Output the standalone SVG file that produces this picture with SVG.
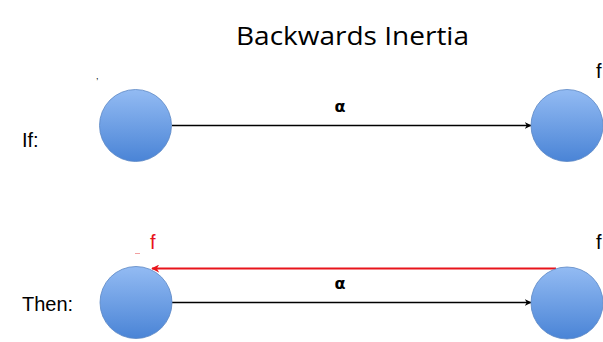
<svg xmlns="http://www.w3.org/2000/svg" width="603" height="342" viewBox="0 0 603 342">
  <defs>
    <linearGradient id="ball" x1="0" y1="0" x2="0" y2="1">
      <stop offset="0" stop-color="#93bbf3"/>
      <stop offset="1" stop-color="#4a84d6"/>
    </linearGradient>
    <marker id="arrBlack" viewBox="0 0 10 10" refX="9" refY="5" markerWidth="7" markerHeight="7" markerUnits="userSpaceOnUse" orient="auto">
      <path d="M0,0 L10,5 L0,10 L3,5 Z" fill="#000"/>
    </marker>
    <marker id="arrRed" viewBox="0 0 10 10" refX="9" refY="5" markerWidth="8" markerHeight="8" markerUnits="userSpaceOnUse" orient="auto">
      <path d="M0,0 L10,5 L0,10 L3,5 Z" fill="#e8141b"/>
    </marker>
  </defs>
  <style>
    .node circle { fill: url(#ball); stroke: #5b86c4; stroke-width: 0.8; }
    .lbl { font-family: "Liberation Sans", Arial, sans-serif; font-size: 20px; fill: #000; }
    .alpha { font-family: "DejaVu Sans", sans-serif; font-size: 16px; font-weight: bold; fill: #000; text-anchor: middle; }
    .title { font-family: "Open Sans", "Liberation Sans", sans-serif; font-size: 26px; fill: #000; }
  </style>
  <rect width="603" height="342" fill="#fff"/>
  <text class="title" x="236" y="45" textLength="233" lengthAdjust="spacingAndGlyphs">Backwards Inertia</text>

  <text class="lbl" x="22" y="147">If:</text>
  <text class="lbl" x="22" y="311" font-size="21">Then:</text>

  <g id="connectors">
    <line x1="172" y1="125.5" x2="531" y2="125.5" stroke="#000" stroke-width="1.5" marker-end="url(#arrBlack)"/>
    <line x1="172" y1="302.5" x2="531" y2="302.5" stroke="#000" stroke-width="1.5" marker-end="url(#arrBlack)"/>
    <line x1="556" y1="268.5" x2="152" y2="268.5" stroke="#e8141b" stroke-width="2" marker-end="url(#arrRed)"/>
    <text class="alpha" x="340" y="112">α</text>
    <text class="alpha" x="340" y="289">α</text>
  </g>

  <g id="n1" class="node">
    <circle cx="135.5" cy="125.5" r="36"/>
    <text x="96" y="79" font-family="Liberation Sans, sans-serif" font-size="9" fill="#000">,</text>
  </g>
  <g id="n2" class="node">
    <circle cx="567" cy="125.5" r="36"/>
    <text class="lbl" x="596" y="78">f</text>
  </g>
  <g id="n3" class="node">
    <circle cx="136" cy="302.5" r="36"/>
    <text x="150" y="249" font-family="Liberation Sans, sans-serif" font-size="20" fill="#e8141b">f</text>
    <line x1="135" y1="253.5" x2="140" y2="253.5" stroke="#f2a0a0" stroke-width="1"/>
  </g>
  <g id="n4" class="node">
    <circle cx="567" cy="303" r="36"/>
    <text class="lbl" x="596" y="249">f</text>
  </g>
</svg>
